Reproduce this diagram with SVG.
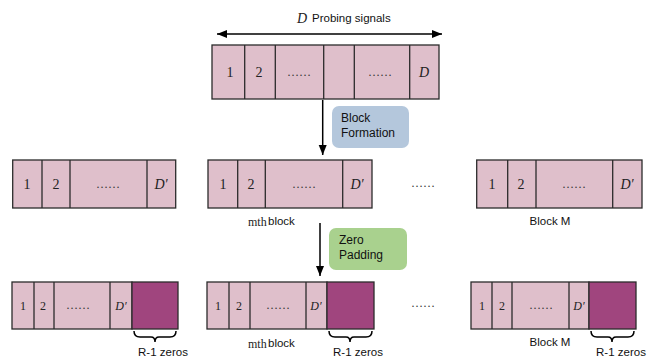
<svg xmlns="http://www.w3.org/2000/svg" width="648" height="360" viewBox="0 0 648 360">
<defs>
<marker id="ah" viewBox="0 0 10 10" refX="10" refY="5" markerWidth="10" markerHeight="10" markerUnits="userSpaceOnUse" orient="auto-start-reverse"><path d="M0,1 L10,5 L0,9 Z" fill="#000"/></marker>
<style>
.c{fill:#dfbfcb;stroke:#2b2b2b;stroke-width:1.3}
.z{fill:#a0457e;stroke:#2b2b2b;stroke-width:1.3}
.n{font-family:"Liberation Serif",serif;font-size:14px;fill:#222;text-anchor:middle}
.ns{font-family:"Liberation Serif",serif;font-size:12px;fill:#222;text-anchor:middle}
.m{font-family:"Liberation Serif",serif;font-size:12px;fill:#222}
.i{font-style:italic}
.s{font-family:"Liberation Sans",Arial,sans-serif;font-size:11.5px;fill:#111}
.b{font-family:"Liberation Sans",Arial,sans-serif;font-size:12px;fill:#111}
.dt{font-family:"Liberation Serif",serif;font-size:12px;fill:#333;text-anchor:middle}
.ln{stroke:#000;stroke-width:1.5;fill:none}
.br{stroke:#000;stroke-width:1.5;fill:none}
</style>
</defs>
<g id="top-label">
<text class="n i" x="302" y="23">D</text>
<text class="s" x="312" y="22">Probing signals</text>
</g>
<g id="top-block">
<rect class="c" x="212" y="45" width="227" height="54"/>
<line class="c" x1="244.7" y1="45" x2="244.7" y2="99"/>
<line class="c" x1="275.3" y1="45" x2="275.3" y2="99"/>
<line class="c" x1="323.7" y1="45" x2="323.7" y2="99"/>
<line class="c" x1="354.3" y1="45" x2="354.3" y2="99"/>
<line class="c" x1="409.7" y1="45" x2="409.7" y2="99"/>
<text class="n" x="230" y="77">1</text>
<text class="n" x="259" y="77">2</text>
<text class="dt" x="299" y="76">……</text>
<text class="dt" x="380" y="76">……</text>
<text class="n i" x="424" y="77">D</text>
</g>
<g id="block-formation">
<rect x="332" y="106" width="77" height="42" rx="7" fill="#b4c7dc"/>
<text class="b" x="341" y="122">Block</text>
<text class="b" x="341" y="137">Formation</text>
</g>
<g id="zero-padding">
<rect x="329" y="228" width="78" height="42" rx="7" fill="#a9d18e"/>
<text class="b" x="339" y="244">Zero</text>
<text class="b" x="339" y="259">Padding</text>
</g>
<g id="block-1">
<rect class="c" x="12.7" y="160" width="163" height="48"/>
<line class="c" x1="42" y1="160" x2="42" y2="208"/>
<line class="c" x1="70" y1="160" x2="70" y2="208"/>
<line class="c" x1="147" y1="160" x2="147" y2="208"/>
<text class="n" x="27" y="189">1</text>
<text class="n" x="56" y="189">2</text>
<text class="dt" x="108" y="188">……</text>
<text class="n i" x="161" y="189">D′</text>
</g>
<g id="block-m">
<rect class="c" x="208" y="160" width="164" height="48"/>
<line class="c" x1="237.7" y1="160" x2="237.7" y2="208"/>
<line class="c" x1="265.3" y1="160" x2="265.3" y2="208"/>
<line class="c" x1="342.7" y1="160" x2="342.7" y2="208"/>
<text class="n" x="223" y="189">1</text>
<text class="n" x="251" y="189">2</text>
<text class="dt" x="304" y="188">……</text>
<text class="n i" x="357" y="189">D′</text>
<text class="m" x="248" y="226">mth</text>
<text class="s" x="268" y="225">block</text>
</g>
<g id="block-M">
<rect class="c" x="476.7" y="160" width="165.3" height="48"/>
<line class="c" x1="507.7" y1="160" x2="507.7" y2="208"/>
<line class="c" x1="536" y1="160" x2="536" y2="208"/>
<line class="c" x1="612.7" y1="160" x2="612.7" y2="208"/>
<text class="n" x="492" y="189">1</text>
<text class="n" x="521" y="189">2</text>
<text class="dt" x="574" y="188">……</text>
<text class="n i" x="627" y="189">D′</text>
<text class="s" x="550" y="225" text-anchor="middle">Block M</text>
</g>
<text class="dt" x="423" y="187">……</text>
<g id="pad-block-1">
<rect class="c" x="12" y="282" width="120" height="47"/>
<line class="c" x1="34" y1="282" x2="34" y2="329"/>
<line class="c" x1="54" y1="282" x2="54" y2="329"/>
<line class="c" x1="110" y1="282" x2="110" y2="329"/>
<rect class="z" x="132" y="282" width="46" height="47"/>
<text class="ns" x="23" y="310">1</text>
<text class="ns" x="43" y="310">2</text>
<text class="dt" x="78" y="309">……</text>
<text class="ns i" x="121" y="310">D′</text>
<path class="br" d="M134,331 Q134,337 140,337 L151,337 Q155,337 155,342 Q155,337 159,337 L170,337 Q176,337 176,331"/>
<text class="s" x="163" y="356" text-anchor="middle">R-1 zeros</text>
</g>
<g id="pad-block-m">
<rect class="c" x="207" y="282" width="120" height="47"/>
<line class="c" x1="229" y1="282" x2="229" y2="329"/>
<line class="c" x1="250" y1="282" x2="250" y2="329"/>
<line class="c" x1="306" y1="282" x2="306" y2="329"/>
<rect class="z" x="327" y="282" width="47" height="47"/>
<text class="ns" x="218" y="310">1</text>
<text class="ns" x="239" y="310">2</text>
<text class="dt" x="278" y="309">……</text>
<text class="ns i" x="316" y="310">D′</text>
<path class="br" d="M329,331 Q329,337 335,337 L346,337 Q350,337 350,342 Q350,337 354,337 L366,337 Q372,337 372,331"/>
<text class="m" x="248" y="348">mth</text>
<text class="s" x="268" y="347">block</text>
<text class="s" x="358" y="356" text-anchor="middle">R-1 zeros</text>
</g>
<g id="pad-block-M">
<rect class="c" x="471" y="282" width="118" height="47"/>
<line class="c" x1="492" y1="282" x2="492" y2="329"/>
<line class="c" x1="512" y1="282" x2="512" y2="329"/>
<line class="c" x1="569" y1="282" x2="569" y2="329"/>
<rect class="z" x="589" y="282" width="47" height="47"/>
<text class="ns" x="482" y="310">1</text>
<text class="ns" x="502" y="310">2</text>
<text class="dt" x="541" y="309">……</text>
<text class="ns i" x="579" y="310">D′</text>
<path class="br" d="M591,331 Q591,337 597,337 L608,337 Q612,337 612,342 Q612,337 616,337 L628,337 Q634,337 634,331"/>
<text class="s" x="550" y="346" text-anchor="middle">Block M</text>
<text class="s" x="621" y="356" text-anchor="middle">R-1 zeros</text>
</g>
<text class="dt" x="423" y="307">……</text>
<g id="connectors">
<line class="ln" x1="217" y1="34" x2="442" y2="34" marker-start="url(#ah)" marker-end="url(#ah)"/>
<line class="ln" x1="322.7" y1="100" x2="322.7" y2="155" marker-end="url(#ah)"/>
<line class="ln" x1="320" y1="223" x2="320" y2="276" marker-end="url(#ah)"/>
</g>
</svg>
